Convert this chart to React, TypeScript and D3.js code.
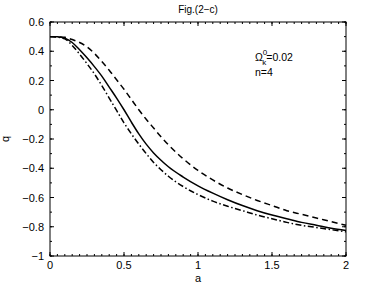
import { useRef, useEffect } from "react";
import * as d3 from "d3";

// a values shared by all three curves
const aValues = [0, 0.05, 0.1, 0.15, 0.2, 0.25, 0.3, 0.35, 0.4, 0.45, 0.5, 0.55, 0.6, 0.65, 0.7, 0.75, 0.8, 0.9, 1.0, 1.1, 1.2, 1.3, 1.4, 1.5, 1.6, 1.7, 1.8, 1.9, 2.0];

const qSolid = [0.5, 0.499, 0.49, 0.46, 0.41, 0.355, 0.295, 0.23, 0.155, 0.08, 0.0, -0.085, -0.165, -0.235, -0.295, -0.345, -0.39, -0.46, -0.52, -0.57, -0.615, -0.655, -0.69, -0.72, -0.745, -0.77, -0.79, -0.81, -0.825];
const qDashed = [0.5, 0.499, 0.495, 0.48, 0.46, 0.43, 0.385, 0.33, 0.27, 0.205, 0.14, 0.07, 0.0, -0.065, -0.125, -0.185, -0.24, -0.335, -0.415, -0.48, -0.535, -0.58, -0.62, -0.655, -0.69, -0.715, -0.74, -0.765, -0.79];
const qDashDot = [0.5, 0.497, 0.485, 0.44, 0.38, 0.315, 0.245, 0.165, 0.08, -0.005, -0.09, -0.165, -0.235, -0.3, -0.36, -0.41, -0.455, -0.525, -0.58, -0.625, -0.66, -0.69, -0.72, -0.745, -0.77, -0.79, -0.805, -0.82, -0.835];

const xTicks = [0, 0.5, 1, 1.5, 2];
const yTicks = [-1, -0.8, -0.6, -0.4, -0.2, 0, 0.2, 0.4, 0.6];

const W = 382, H = 287;
const margin = { top: 22, right: 36, bottom: 31, left: 50 };

export default function App() {
  const ref = useRef<SVGSVGElement>(null);

  useEffect(() => {
    const svg = d3.select(ref.current);
    svg.selectAll("*").remove();

    const x = d3.scaleLinear().domain([0, 2]).range([margin.left, W - margin.right]);
    const y = d3.scaleLinear().domain([-1, 0.6]).range([H - margin.bottom, margin.top]);
    const font = "'Liberation Sans', Arial, sans-serif";

    const g = svg.append("g");

    // box
    g.append("rect")
      .attr("x", x(0)).attr("y", y(0.6))
      .attr("width", x(2) - x(0)).attr("height", y(-1) - y(0.6))
      .attr("fill", "none").attr("stroke", "#000").attr("stroke-width", 1);

    // minor ticks
    const xMinor = d3.range(0, 2.0001, 0.05);
    const yMinor = d3.range(-1, 0.6001, 0.1);
    xMinor.forEach((v) => {
      g.append("line").attr("x1", x(v)).attr("x2", x(v)).attr("y1", y(-1)).attr("y2", y(-1) - 2).attr("stroke", "#000");
      g.append("line").attr("x1", x(v)).attr("x2", x(v)).attr("y1", y(0.6)).attr("y2", y(0.6) + 2).attr("stroke", "#000");
    });
    yMinor.forEach((v) => {
      g.append("line").attr("y1", y(v)).attr("y2", y(v)).attr("x1", x(0)).attr("x2", x(0) + 2).attr("stroke", "#000");
      g.append("line").attr("y1", y(v)).attr("y2", y(v)).attr("x1", x(2)).attr("x2", x(2) - 2).attr("stroke", "#000");
    });

    // major ticks + labels
    xTicks.forEach((v) => {
      g.append("line").attr("x1", x(v)).attr("x2", x(v)).attr("y1", y(-1)).attr("y2", y(-1) - 4).attr("stroke", "#000");
      g.append("line").attr("x1", x(v)).attr("x2", x(v)).attr("y1", y(0.6)).attr("y2", y(0.6) + 4).attr("stroke", "#000");
      g.append("text").attr("x", x(v)).attr("y", y(-1) + 12.5)
        .attr("text-anchor", "middle").attr("font-family", font).attr("font-size", 11)
        .text(String(v));
    });
    yTicks.forEach((v) => {
      g.append("line").attr("y1", y(v)).attr("y2", y(v)).attr("x1", x(0)).attr("x2", x(0) + 4).attr("stroke", "#000");
      g.append("line").attr("y1", y(v)).attr("y2", y(v)).attr("x1", x(2)).attr("x2", x(2) - 4).attr("stroke", "#000");
      g.append("text").attr("x", x(0) - 6).attr("y", y(v) + 4)
        .attr("text-anchor", "end").attr("font-family", font).attr("font-size", 11)
        .text(v === 0 ? "0" : String(v).replace("-", "\u2212"));
    });

    // curves
    const line = d3.line<number>()
      .x((_, i) => x(aValues[i]))
      .y((d) => y(d))
      .curve(d3.curveMonotoneX);

    const series: [number[], string][] = [
      [qSolid, ""],
      [qDashed, "6,4"],
      [qDashDot, "6,2.5,1.5,2.5"],
    ];
    series.forEach(([vals, dash]) => {
      g.append("path").datum(vals)
        .attr("d", line)
        .attr("fill", "none").attr("stroke", "#000").attr("stroke-width", 1.5)
        .attr("stroke-dasharray", dash || null);
    });

    // title, axis labels
    g.append("text").attr("x", (x(0) + x(2)) / 2).attr("y", 13)
      .attr("text-anchor", "middle").attr("font-family", font).attr("font-size", 10)
      .text("Fig.(2\u2212c)");
    g.append("text").attr("x", (x(0) + x(2)) / 2).attr("y", 281.5)
      .attr("text-anchor", "middle").attr("font-family", font).attr("font-size", 11)
      .text("a");
    g.append("text").attr("transform", `translate(9, ${(y(0.6) + y(-1)) / 2}) rotate(-90)`)
      .attr("text-anchor", "middle").attr("font-family", font).attr("font-size", 11)
      .text("q");

    // annotation
    const ann = g.append("text").attr("x", 255).attr("y", 61)
      .attr("font-family", font).attr("font-size", 10.5);
    ann.append("tspan").text("\u03A9");
    ann.append("tspan").attr("dy", -6).attr("font-size", 8).text("0");
    ann.append("tspan").attr("dx", -5).attr("dy", 10).attr("font-size", 8).text("k");
    ann.append("tspan").attr("dy", -4).text("=0.02");
    g.append("text").attr("x", 255).attr("y", 76)
      .attr("font-family", font).attr("font-size", 10.5)
      .text("n=4");
  }, []);

  return (
    <svg ref={ref} width={W} height={H}
      style={{ position: "absolute", left: 0, top: 0, background: "#fff" }} />
  );
}
